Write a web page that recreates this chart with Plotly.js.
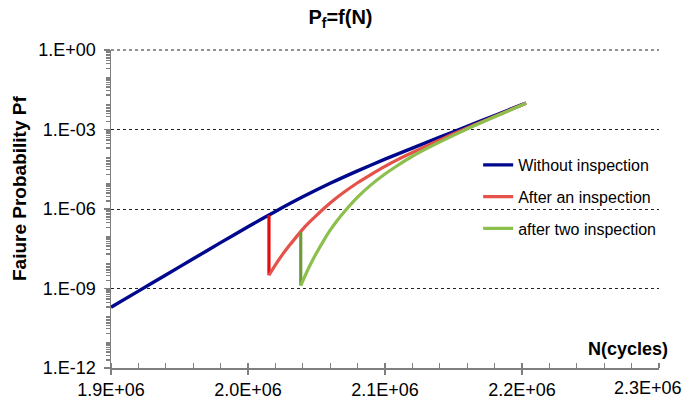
<!DOCTYPE html>
<html>
<head>
<meta charset="utf-8">
<script src="https://cdn.plot.ly/plotly-3.0.1.min.js"></script>
<style>html,body{margin:0;padding:0;background:#fff;}#chart{width:685px;height:399px;}</style>
</head>
<body>
<div id="chart"></div>
<script>
// Without inspection (N in cycles, log10 of Pf)
const blueN = [1.900e6, 1.920e6, 1.940e6, 1.960e6, 1.980e6, 2.000e6, 2.020e6, 2.040e6, 2.060e6, 2.080e6, 2.100e6, 2.120e6, 2.140e6, 2.160e6, 2.180e6, 2.200e6, 2.203e6];
const blueLog = [-9.71, -9.10, -8.49, -7.88, -7.27, -6.67, -6.09, -5.54, -5.03, -4.56, -4.12, -3.70, -3.29, -2.88, -2.47, -2.06, -2.00];

// After an inspection
const redN = [2.0153e6, 2.020e6, 2.025e6, 2.030e6, 2.035e6, 2.040e6, 2.045e6, 2.050e6, 2.055e6, 2.060e6, 2.070e6, 2.080e6, 2.090e6, 2.100e6, 2.110e6, 2.120e6, 2.135e6, 2.150e6, 2.165e6, 2.180e6, 2.195e6, 2.203e6];
const redLog = [-8.50, -8.11, -7.73, -7.39, -7.07, -6.76, -6.49, -6.24, -6.00, -5.77, -5.37, -5.01, -4.69, -4.39, -4.12, -3.87, -3.51, -3.16, -2.83, -2.51, -2.18, -2.01];
const redDropN = [2.0153e6, 2.0153e6];
const redDropLog = [-6.23, -8.50];

// After two inspection
const greenN = [2.0385e6, 2.042e6, 2.046e6, 2.050e6, 2.055e6, 2.060e6, 2.065e6, 2.070e6, 2.080e6, 2.090e6, 2.100e6, 2.110e6, 2.120e6, 2.135e6, 2.150e6, 2.165e6, 2.180e6, 2.195e6, 2.203e6];
const greenLog = [-8.89, -8.48, -8.05, -7.66, -7.21, -6.80, -6.44, -6.12, -5.55, -5.08, -4.68, -4.33, -4.01, -3.60, -3.22, -2.86, -2.52, -2.19, -2.01];
const greenDropN = [2.0385e6, 2.0385e6];
const greenDropLog = [-6.87, -8.89];

const seriesNames = ["Without inspection", "After an inspection", "after two inspection"];
const xTickVals = [1.9e6, 2.0e6, 2.1e6, 2.2e6, 2.3e6];
const xTickText = ["1.9E+06", "2.0E+06", "2.1E+06", "2.2E+06", "2.3E+06"];
const yTickVals = [1e-12, 1e-9, 1e-6, 1e-3, 1];
const yTickText = ["1.E-12", "1.E-09", "1.E-06", "1.E-03", "1.E+00"];

const pow = a => a.map(v => Math.pow(10, v));

const yMinor = [];
for (let d = -12; d < 0; d++) for (let k = 2; k <= 9; k++) yMinor.push(k * Math.pow(10, d));
const xMinor = [];
for (let i = 0; i <= 20; i++) xMinor.push(1.9e6 + i * 0.02e6);

// the last x tick label sits at the right edge of the page: draw it as a right-aligned annotation
const lastIdx = xTickText.length - 1;
const xTickTextShown = xTickText.map((t, i) => i === lastIdx ? '' : t);

const traces = [
  {x: blueN, y: pow(blueLog), mode: 'lines', name: seriesNames[0], legendgroup: 'a', line: {color: '#00088c', width: 3.4, shape: 'spline', smoothing: 0.6}},
  {x: redDropN, y: pow(redDropLog), mode: 'lines', showlegend: false, line: {color: '#e30b0b', width: 3.2}},
  {x: redN, y: pow(redLog), mode: 'lines', name: seriesNames[1], legendgroup: 'b', line: {color: '#e4524a', width: 3.2, shape: 'spline', smoothing: 0.6}},
  {x: greenDropN, y: pow(greenDropLog), mode: 'lines', showlegend: false, line: {color: '#6e9a3a', width: 3.2}},
  {x: greenN, y: pow(greenLog), mode: 'lines', name: seriesNames[2], legendgroup: 'c', line: {color: '#8cbf4b', width: 3.2, shape: 'spline', smoothing: 0.6}}
];

const font = {family: 'Arial, Liberation Sans, sans-serif', color: '#000'};

const layout = {
  width: 685, height: 399,
  margin: {l: 111, r: 26, t: 50, b: 31},
  paper_bgcolor: '#fff', plot_bgcolor: '#fff',
  font: Object.assign({size: 16}, font),
  title: {text: '<b>P<sub>f</sub>=f(N)</b>', x: 0.497, xanchor: 'center', y: 0.957, yanchor: 'middle', font: Object.assign({size: 20}, font)},
  showlegend: true,
  legend: {x: 0.67, y: 0.692, xanchor: 'left', yanchor: 'top', bgcolor: 'rgba(0,0,0,0)', font: Object.assign({size: 16}, font), tracegroupgap: 8, traceorder: 'grouped'},
  xaxis: {
    range: [1.9e6, 2.3e6], tickmode: 'array', tickvals: xTickVals, ticktext: xTickTextShown,
    showgrid: false, zeroline: false, showline: true, linecolor: '#7f7f7f', linewidth: 1.5,
    ticks: 'outside', ticklen: 5, tickcolor: '#7f7f7f', tickwidth: 1.2,
    minor: {tickmode: 'array', tickvals: xMinor, ticks: 'inside', ticklen: 5, tickcolor: '#7f7f7f', showgrid: false},
    tickfont: Object.assign({size: 18}, font)
  },
  yaxis: {
    type: 'log', range: [-12, 0], tickmode: 'array', tickvals: yTickVals, ticktext: yTickText,
    showgrid: true, gridcolor: '#222', griddash: 'dot', gridwidth: 1,
    zeroline: false, showline: true, linecolor: '#7f7f7f', linewidth: 1.5,
    ticks: 'outside', ticklen: 6, tickcolor: '#7f7f7f', tickwidth: 1.2, ticklabelstandoff: 4,
    minor: {tickmode: 'array', tickvals: yMinor, ticks: 'outside', ticklen: 4, tickcolor: '#7f7f7f', showgrid: false},
    tickfont: Object.assign({size: 18}, font)
  },
  shapes: [
    {type: 'line', xref: 'paper', yref: 'paper', x0: 0, x1: 1, y0: 1, y1: 1, line: {color: '#222', width: 1, dash: 'dot'}, layer: 'below'}
  ],
  annotations: [
    {text: xTickText[lastIdx], xref: 'paper', yref: 'paper', x: 1.0456, y: -0.063, xanchor: 'right', yanchor: 'middle', showarrow: false, font: Object.assign({size: 18}, font)},
    {text: '<b>N(cycles)</b>', xref: 'paper', yref: 'paper', x: 1.02, y: 0.06, xanchor: 'right', yanchor: 'middle', showarrow: false, font: Object.assign({size: 18}, font)},
    {text: '<b>Faiure Probability Pf</b>', xref: 'paper', yref: 'paper', x: -0.166, y: 0.563, xanchor: 'center', yanchor: 'middle', textangle: -90, showarrow: false, font: Object.assign({size: 19}, font)}
  ]
};

Plotly.newPlot('chart', traces, layout, {displayModeBar: false, staticPlot: true});
</script>
</body>
</html>
